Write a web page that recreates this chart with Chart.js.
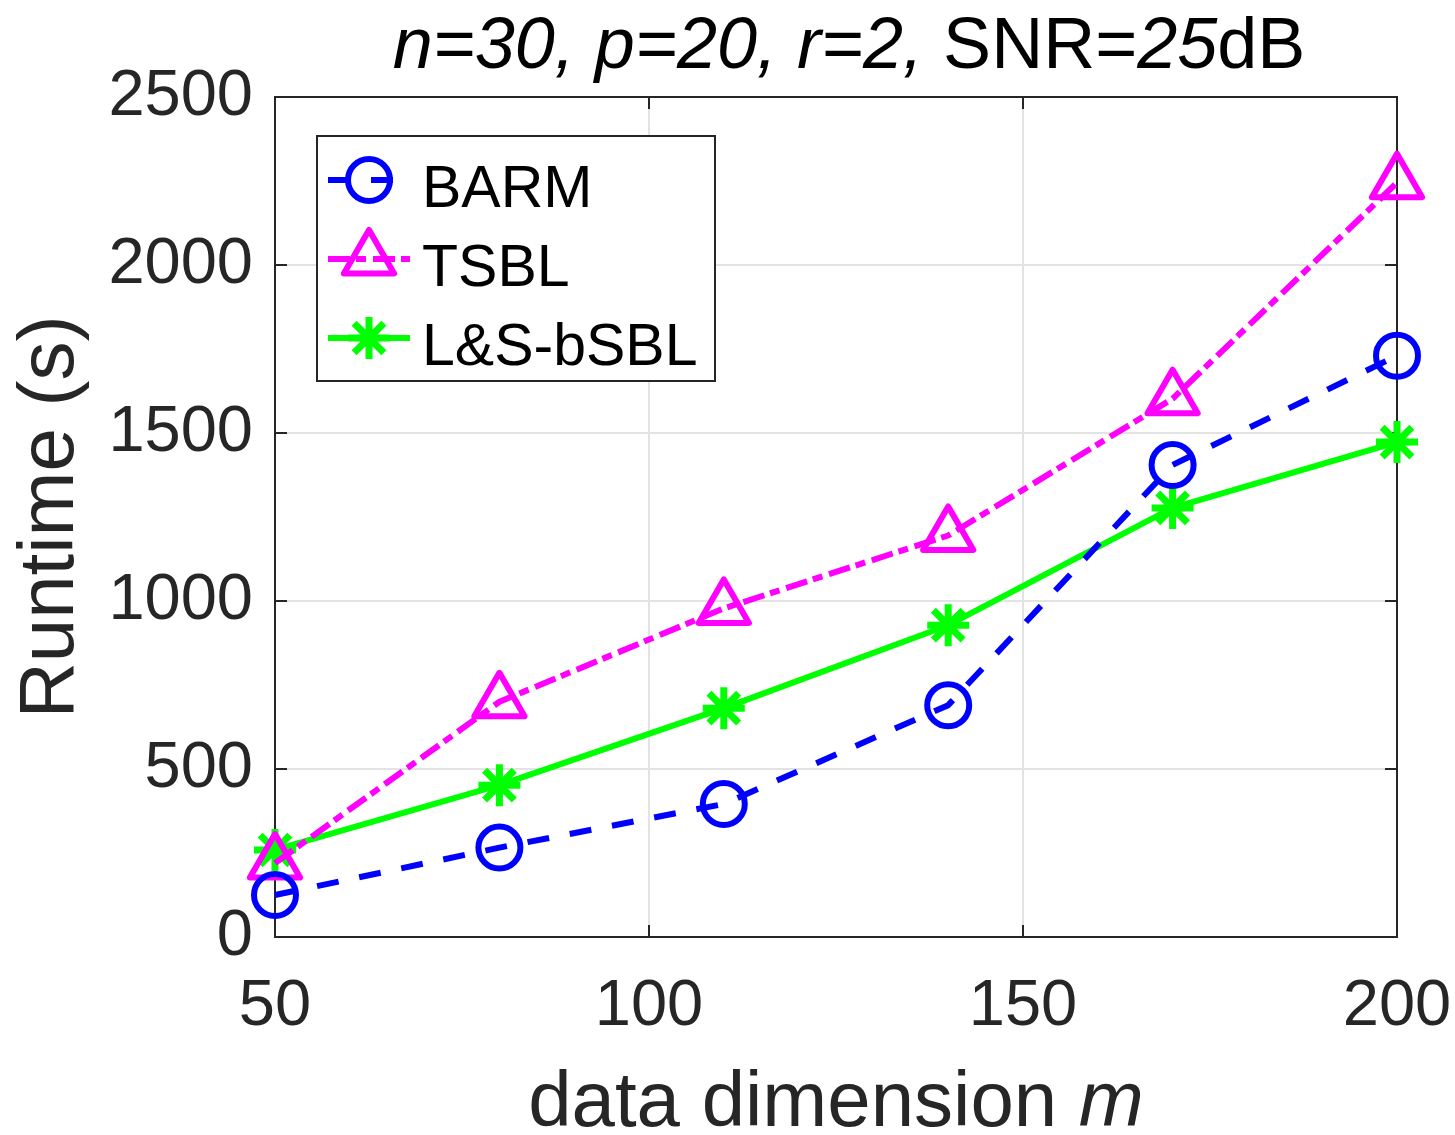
<!DOCTYPE html>
<html>
<head>
<meta charset="utf-8">
<script src="https://cdn.jsdelivr.net/npm/chart.js@4.4.1/dist/chart.umd.min.js"></script>
<style>
  body { margin: 0; background: #fff; }
</style>
</head>
<body>
<canvas id="runtimeChart" width="1455" height="1135"></canvas>
<script>
// data
const dims = [50, 80, 110, 140, 170, 200];
const barm = [125, 266, 396, 690, 1405, 1730];
const tsbl = [220, 700, 978, 1195, 1602, 2245];
const lsbsbl = [259, 452, 681, 928, 1277, 1473];

const xTicks = [50, 100, 150, 200];
const yTicks = [0, 500, 1000, 1500, 2000, 2500];

// [text, italic?]
const titleParts = [['n=30, p=20, r=2,', true], [' SNR=', false], ['25', true], ['dB', false]];
const xLabelParts = [['data dimension ', false], ['m', true]];

const FONT = '"Liberation Sans", Arial, Helvetica, sans-serif';
const TXT = '#262626';

function pts(ys) {
  return dims.map((d, i) => ({x: d, y: ys[i]}));
}

function drawRich(ctx, parts, cx, baseY, size, color) {
  let total = 0;
  parts.forEach(p => {
    ctx.font = (p[1] ? 'italic ' : '') + size + 'px ' + FONT;
    total += ctx.measureText(p[0]).width;
  });
  let x = cx - total / 2;
  ctx.fillStyle = color;
  ctx.textAlign = 'left';
  ctx.textBaseline = 'alphabetic';
  parts.forEach(p => {
    ctx.font = (p[1] ? 'italic ' : '') + size + 'px ' + FONT;
    ctx.fillText(p[0], x, baseY);
    x += ctx.measureText(p[0]).width;
  });
}

// axes box with inward ticks (matlab style), markers with round joins
const framePlugin = {
  id: 'frame',
  beforeDatasetsDraw(chart) {
    const {ctx, chartArea: a, scales} = chart;
    const x = scales.x, y = scales.y;
    ctx.save();
    ctx.strokeStyle = TXT;
    ctx.lineWidth = 2;
    ctx.setLineDash([]);
    ctx.strokeRect(a.left, a.top, a.right - a.left, a.bottom - a.top);
    ctx.beginPath();
    y.ticks.forEach(t => {
      const py = y.getPixelForValue(t.value);
      ctx.moveTo(a.left, py); ctx.lineTo(a.left + 12, py);
      ctx.moveTo(a.right, py); ctx.lineTo(a.right - 12, py);
    });
    x.ticks.forEach(t => {
      const px = x.getPixelForValue(t.value);
      ctx.moveTo(px, a.bottom); ctx.lineTo(px, a.bottom - 12);
      ctx.moveTo(px, a.top); ctx.lineTo(px, a.top + 12);
    });
    ctx.stroke();
    ctx.restore();
    ctx.lineJoin = 'round';
  },
  afterDatasetsDraw(chart) {
    chart.ctx.lineJoin = 'miter';
  },
  afterDraw(chart) {
    const {ctx, chartArea: a} = chart;
    ctx.save();
    // title + x label
    drawRich(ctx, titleParts, 849, 68, 72, '#000');
    drawRich(ctx, xLabelParts, (a.left + a.right) / 2, 1126, 78, TXT);

    // legend
    const lx = a.left + 42, ly = a.top + 39, lw = 398, lh = 245;
    ctx.fillStyle = '#fff';
    ctx.fillRect(lx, ly, lw, lh);
    ctx.strokeStyle = TXT;
    ctx.lineWidth = 2;
    ctx.strokeRect(lx, ly, lw, lh);
    ctx.lineJoin = 'round';
    chart.data.datasets.forEach((ds, i) => {
      const cy = ly + 44 + i * 79;
      ctx.strokeStyle = ds.borderColor;
      ctx.lineWidth = ds.borderWidth;
      ctx.setLineDash(ds.borderDash || []);
      ctx.beginPath();
      ctx.moveTo(lx + 11, cy);
      ctx.lineTo(lx + 93, cy);
      ctx.stroke();
      ctx.setLineDash([]);
      ctx.fillStyle = 'rgba(0,0,0,0)';
      ctx.lineWidth = ds.pointBorderWidth;
      Chart.helpers.drawPoint(ctx, {
        pointStyle: ds.pointStyle, radius: ds.pointRadius,
        borderWidth: ds.pointBorderWidth, rotation: 0
      }, lx + 52, cy);
      ctx.fillStyle = '#000';
      ctx.font = '59px ' + FONT;
      ctx.textAlign = 'left';
      ctx.textBaseline = 'alphabetic';
      ctx.fillText(ds.label, lx + 105, cy + 27);
    });
    ctx.restore();
  }
};

const ctx = document.getElementById('runtimeChart').getContext('2d');
new Chart(ctx, {
  type: 'line',
  data: {
    datasets: [
      {
        label: 'BARM',
        data: pts(barm),
        borderColor: '#0000ff',
        borderWidth: 6,
        borderDash: [22, 21],
        pointStyle: 'circle',
        pointRadius: 21,
        pointBorderWidth: 6,
        pointBorderColor: '#0000ff',
        pointBackgroundColor: 'rgba(0,0,0,0)',
        clip: false,
      },
      {
        label: 'TSBL',
        data: pts(tsbl),
        borderColor: '#ff00ff',
        borderWidth: 6,
        borderDash: [22, 6, 10, 7],
        pointStyle: 'triangle',
        pointRadius: 29,
        pointBorderWidth: 6,
        pointBorderColor: '#ff00ff',
        pointBackgroundColor: 'rgba(0,0,0,0)',
        clip: false,
      },
      {
        label: 'L&S-bSBL',
        data: pts(lsbsbl),
        borderColor: '#00ff00',
        borderWidth: 6,
        pointStyle: 'star',
        pointRadius: 21,
        pointBorderWidth: 7,
        pointBorderColor: '#00ff00',
        pointBackgroundColor: 'rgba(0,0,0,0)',
        clip: false,
      },
    ],
  },
  options: {
    responsive: false,
    animation: false,
    events: [],
    layout: { padding: { top: 97, right: 58, left: 0, bottom: 0 } },
    elements: { line: { tension: 0, borderJoinStyle: 'round' } },
    plugins: { legend: { display: false }, title: { display: false }, tooltip: { enabled: false } },
    scales: {
      x: {
        type: 'linear',
        min: 50,
        max: 200,
        afterFit: s => { s.height = 198; s.paddingLeft = 0; s.paddingRight = 0; },
        afterBuildTicks: s => { s.ticks = xTicks.map(v => ({value: v})); },
        grid: { color: '#e3e3e3', lineWidth: 2, drawTicks: false },
        border: { display: false },
        ticks: { color: TXT, font: { family: FONT, size: 65 }, padding: 31, maxRotation: 0,
                 callback: v => String(v) },
      },
      y: {
        min: 0,
        max: 2500,
        afterFit: s => { s.width = 275; s.paddingTop = 0; s.paddingBottom = 0; },
        afterBuildTicks: s => { s.ticks = yTicks.map(v => ({value: v})); },
        grid: { color: '#e3e3e3', lineWidth: 2, drawTicks: false },
        border: { display: false },
        ticks: { color: TXT, font: { family: FONT, size: 65 }, padding: 22,
                 callback: v => String(v) },
        title: {
          display: true,
          text: 'Runtime (s)',
          color: TXT,
          font: { family: FONT, size: 78, lineHeight: 1 },
          padding: { top: 12, bottom: 0 },
        },
      },
    },
  },
  plugins: [framePlugin],
});
</script>
</body>
</html>
